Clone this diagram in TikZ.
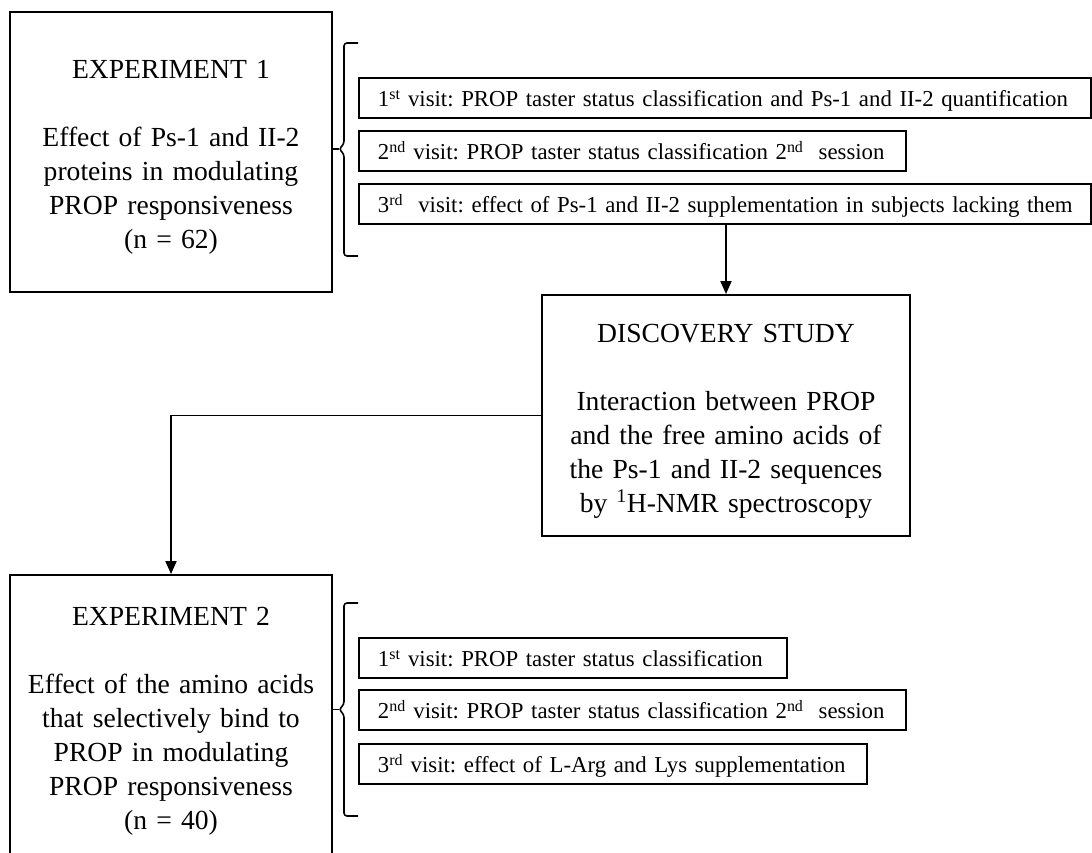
\documentclass[tikz,border=0pt]{standalone}
\usepackage{fontspec}
\setmainfont{Liberation Serif}
\usetikzlibrary{arrows.meta}
\begin{document}
\begin{tikzpicture}[x=1pt,y=-1pt,
  bigbox/.style={draw, line width=1.9pt, inner sep=0pt, minimum width=322pt},
  bigtext/.style={anchor=base, align=center, text width=350pt, inner sep=0pt, font=\fontsize{27.6}{34}\selectfont\frenchspacing},
  visit/.style={draw, line width=1.8pt, anchor=north west, minimum height=40pt, inner xsep=19pt, inner ysep=0pt, text height=18pt, text depth=0pt, text width=#1, align=left, font=\fontsize{22.8}{28}\selectfont\frenchspacing},
  grpbrace/.style={line width=1.6pt, rounded corners=3pt},
  conn/.style={line width=1.9pt, -{Triangle[length=13pt,width=11pt]}}]
\useasboundingbox (0,0) rectangle (1092,852);
\clip (0,0) rectangle (1092,852);

% Experiment 1
\node[bigbox, minimum height=280pt] (exp1) at (171,152) {};
\node[bigtext] (exp1t) at (171,78) {EXPERIMENT 1\\[34pt]Effect of Ps-1 and II-2\\proteins in modulating\\PROP responsiveness\\(n = 62)};

% Discovery study
\node[bigbox, minimum width=368pt, minimum height=241pt] (disc) at (726,415.5) {};
\node[bigtext] (disct) at (726,342) {DISCOVERY STUDY\\[34pt]Interaction between PROP\\and the free amino acids of\\the Ps-1 and II-2 sequences\\by \textsuperscript{1}H-NMR spectroscopy};

% Experiment 2
\node[bigbox, minimum height=310pt] (exp2) at (171,730) {};
\node[bigtext] (exp2t) at (171,625) {EXPERIMENT 2\\[34pt]Effect of the amino acids\\that selectively bind to\\PROP in modulating\\PROP responsiveness\\(n = 40)};

% Visits of experiment 1
\node[visit=694pt] (e1v1) at (358,77) {\mbox{1\textsuperscript{st} visit: PROP taster status classification and Ps-1 and II-2 quantification}};
\node[visit=509pt] (e1v2) at (358,130) {\mbox{2\textsuperscript{nd} visit: PROP taster status classification 2\textsuperscript{nd}~ session}};
\node[visit=694pt] (e1v3) at (358,183) {\mbox{3\textsuperscript{rd}~ visit: effect of Ps-1 and II-2 supplementation in subjects lacking them}};

% Visits of experiment 2
\node[visit=390pt] (e2v1) at (358,637) {\mbox{1\textsuperscript{st} visit: PROP taster status classification}};
\node[visit=509pt] (e2v2) at (358,689) {\mbox{2\textsuperscript{nd} visit: PROP taster status classification 2\textsuperscript{nd}~ session}};
\node[visit=470pt] (e2v3) at (358,743) {\mbox{3\textsuperscript{rd} visit: effect of L-Arg and Lys supplementation}};

% Braces
\coordinate (b1tip) at (332,149);
\draw[grpbrace] (358,43) -| (344,144) -- (339,149) -- (344,154) |- (358,256);
\draw[line width=1.6pt] (339,149) -- (b1tip);
\coordinate (b2tip) at (332,709.5);
\draw[grpbrace] (358,603) -| (344,704.5) -- (339,709.5) -- (344,714.5) |- (358,816);
\draw[line width=1.6pt] (339,709.5) -- (b2tip);

% Connectors
\draw[conn] (e1v3.south -| disc.north) -- (disc.north);
\draw[conn] (disc.west) -| (exp2.north);
\end{tikzpicture}
\end{document}
